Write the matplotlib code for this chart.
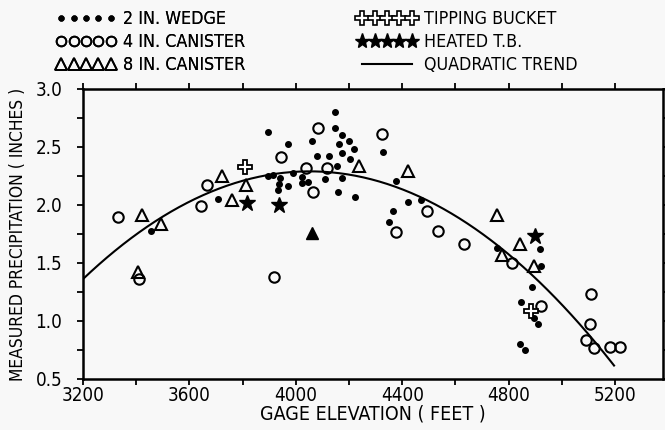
import numpy as np
import matplotlib
matplotlib.use("Agg")
import matplotlib.pyplot as plt
from matplotlib.lines import Line2D
from matplotlib.ticker import MultipleLocator

plt.rcParams['font.family'] = ['DejaVu Sans']
plt.rcParams['font.stretch'] = 'condensed'

# 2 in. wedge gages
wedge_x = [3894, 3706, 3455, 4146, 4149, 4172, 4198, 4164, 4217, 4175, 4205, 4059,
           3969, 4080, 4125, 4153, 4108, 4175, 4160, 4224, 4326, 4378, 4423, 4472,
           4367, 4352, 3894, 3913, 3939, 3932, 3935, 3969, 3988, 4022, 4022, 4044,
           4757, 4918, 4922, 4888, 4847, 4896, 4911, 4843, 4862]
wedge_y = [2.63, 2.05, 1.78, 2.80, 2.66, 2.60, 2.55, 2.53, 2.48, 2.45, 2.40, 2.55,
           2.53, 2.42, 2.42, 2.34, 2.22, 2.23, 2.11, 2.07, 2.46, 2.21, 2.03, 2.04,
           1.95, 1.85, 2.25, 2.26, 2.23, 2.13, 2.18, 2.16, 2.28, 2.24, 2.19, 2.20,
           1.63, 1.62, 1.47, 1.29, 1.16, 1.03, 0.97, 0.80, 0.75]

# 4 in. canister
can4_x = [3331, 3410, 3665, 3643, 3943, 3917, 4082, 4322, 4040, 4116, 4063, 4494,
          4378, 4536, 4633, 4813, 4922, 5110, 5106, 5091, 5121, 5181, 5219]
can4_y = [1.90, 1.36, 2.17, 1.99, 2.41, 1.38, 2.66, 2.61, 2.32, 2.32, 2.11, 1.95,
          1.77, 1.78, 1.66, 1.50, 1.13, 1.23, 0.97, 0.84, 0.77, 0.78, 0.78]

# 8 in. canister
can8_x = [3421, 3493, 3721, 3759, 3812, 3406, 4239, 4423, 4757, 4843, 4776, 4896]
can8_y = [1.91, 1.84, 2.25, 2.04, 2.17, 1.42, 2.34, 2.29, 1.91, 1.66, 1.57, 1.47]
can8_solid_x = [4059]
can8_solid_y = [1.76]

# tipping bucket / heated tipping bucket
tip_x = [3808, 4885]
tip_y = [2.33, 1.09]
heat_x = [3815, 3935, 4900]
heat_y = [2.02, 2.00, 1.73]

# quadratic trend  y = k + a*(x - h)^2
trend_h = 4052
trend_k = 2.29
trend_a = -1.279e-6
trend_range = [3200, 5196]

fig = plt.figure(figsize=(6.65, 4.3), dpi=100)
fig.patch.set_facecolor('#f8f8f8')
ax = fig.add_axes([83/665, 1 - 379/430, 580/665, 290/430])
ax.set_facecolor('#f8f8f8')

xt = np.linspace(trend_range[0], trend_range[1], 200)
ax.plot(xt, trend_k + trend_a * (xt - trend_h) ** 2, color='black', lw=1.5)

ax.plot(wedge_x, wedge_y, 'o', ms=4, color='black', ls='none')
ax.plot(can4_x, can4_y, 'o', ms=7.5, mfc='none', mec='black', mew=1.5, ls='none')
ax.plot(can8_x, can8_y, '^', ms=9, mfc='none', mec='black', mew=1.5, ls='none')
ax.plot(can8_solid_x, can8_solid_y, '^', ms=9, color='black', ls='none')
ax.plot(tip_x, tip_y, 'P', ms=10, mfc='white', mec='black', mew=1.3, ls='none')
ax.plot(heat_x, heat_y, '*', ms=12, color='black', ls='none')

ax.set_xlim(3200, 5380)
ax.set_ylim(0.5, 3.0)
ax.xaxis.set_minor_locator(MultipleLocator(200))
ax.yaxis.set_minor_locator(MultipleLocator(0.25))
ax.set_xticks([3200, 3600, 4000, 4400, 4800, 5200])
ax.set_yticks([0.5, 1.0, 1.5, 2.0, 2.5, 3.0])
ax.set_yticklabels(['0.5', '1.0', '1.5', '2.0', '2.5', '3.0'])
ax.tick_params(which='both', direction='out', top=True, right=True, width=1.3,
               length=4, labelsize=13.5)
ax.tick_params(axis='y', pad=11)
ax.tick_params(axis='x', pad=1)
for s in ax.spines.values():
    s.set_linewidth(1.8)

ax.set_xlabel('GAGE ELEVATION ( FEET )', fontsize=14, labelpad=0)
ax.set_ylabel('MEASURED PRECIPITATION ( INCHES )', fontsize=12.5, labelpad=6)

h1 = [Line2D([], [], marker='o', ms=3.5, color='black', ls='none'),
      Line2D([], [], marker='o', ms=7, mfc='none', mec='black', mew=1.3, ls='none'),
      Line2D([], [], marker='^', ms=8, mfc='none', mec='black', mew=1.3, ls='none')]
l1 = ['2 IN. WEDGE', '4 IN. CANISTER', '8 IN. CANISTER']
h2 = [Line2D([], [], marker='P', ms=10, mfc='white', mec='black', mew=1.2, ls='none'),
      Line2D([], [], marker='*', ms=11, color='black', ls='none'),
      Line2D([], [], color='black', lw=1.5)]
l2 = ['TIPPING BUCKET', 'HEATED T.B.', 'QUADRATIC TREND']

leg1 = fig.legend(h1, l1, loc='upper left', bbox_to_anchor=(46/665, 1.0), frameon=False,
                  numpoints=5, handlelength=3.4, handletextpad=0.4, fontsize=12.8,
                  labelspacing=0.3, borderpad=0.05)
leg2 = fig.legend(h2, l2, loc='upper left', bbox_to_anchor=(347/665, 1.0), frameon=False,
                  numpoints=5, handlelength=3.4, handletextpad=0.4, fontsize=12.8,
                  labelspacing=0.3, borderpad=0.05)
fig.add_artist(leg1)

fig.savefig('out.png', dpi=100, facecolor=fig.get_facecolor())
